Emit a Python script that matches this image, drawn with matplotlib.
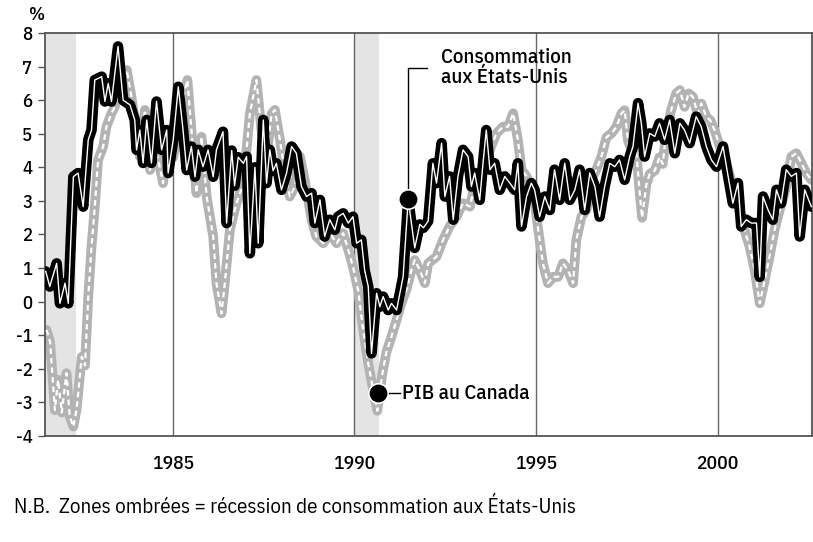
import matplotlib.pyplot as plt

# US consumption (y/y %)
cons_dates = [1981.50, 1981.61, 1981.80, 1981.89, 1982.03, 1982.12, 1982.26, 1982.39, 1982.53,
              1982.67, 1982.76, 1982.85, 1983.04, 1983.13, 1983.22, 1983.31, 1983.49, 1983.63,
              1983.82, 1983.95, 1984.00, 1984.09, 1984.18, 1984.28, 1984.41, 1984.55, 1984.69,
              1984.83, 1984.87, 1985.01, 1985.15, 1985.28, 1985.38, 1985.51, 1985.61, 1985.70,
              1985.83, 1985.97, 1986.11, 1986.20, 1986.38, 1986.48, 1986.62, 1986.70, 1986.80,
              1986.94, 1987.03, 1987.12, 1987.26, 1987.35, 1987.49, 1987.58, 1987.67, 1987.76,
              1987.85, 1987.99, 1988.13, 1988.27, 1988.40, 1988.54, 1988.68, 1988.82, 1988.91,
              1989.05, 1989.18, 1989.32, 1989.46, 1989.55, 1989.69, 1989.83, 1989.96, 1990.06,
              1990.19, 1990.28, 1990.38, 1990.47, 1990.61, 1990.70, 1990.79, 1990.93, 1991.02,
              1991.16, 1991.25, 1991.34, 1991.48, 1991.66, 1991.80, 1991.90, 1992.03, 1992.16,
              1992.26, 1992.40, 1992.49, 1992.62, 1992.72, 1992.85, 1992.99, 1993.13, 1993.22,
              1993.31, 1993.45, 1993.54, 1993.63, 1993.73, 1993.86, 1994.00, 1994.14, 1994.28,
              1994.41, 1994.50, 1994.60, 1994.74, 1994.87, 1994.96, 1995.10, 1995.24, 1995.38,
              1995.51, 1995.65, 1995.79, 1995.93, 1996.07, 1996.20, 1996.34, 1996.48, 1996.62,
              1996.75, 1996.89, 1997.03, 1997.17, 1997.30, 1997.44, 1997.58, 1997.67, 1997.81,
              1997.90, 1997.99, 1998.13, 1998.27, 1998.40, 1998.54, 1998.68, 1998.82, 1998.96,
              1999.09, 1999.23, 1999.41, 1999.55, 1999.69, 1999.83, 1999.97, 2000.15, 2000.29,
              2000.42, 2000.56, 2000.65, 2000.79, 2000.93, 2001.07, 2001.16, 2001.25, 2001.39,
              2001.52, 2001.62, 2001.75, 2001.89, 2002.03, 2002.17, 2002.26, 2002.40, 2002.58]
cons_values = [0.90, 0.45, 1.14, -0.05, 0.55, -0.05, 3.72, 3.83, 2.83,
               4.82, 5.11, 6.60, 6.70, 5.96, 6.50, 5.96, 7.60, 6.00,
               5.86, 5.41, 4.52, 5.11, 4.13, 5.41, 4.13, 5.96, 4.52,
               5.11, 3.83, 4.82, 6.40, 5.11, 3.92, 4.62, 3.72, 4.52,
               4.02, 4.52, 3.72, 4.52, 5.06, 2.34, 4.50, 3.45, 4.30,
               4.12, 4.32, 1.44, 4.00, 1.74, 5.41, 3.53, 4.52, 3.90,
               4.12, 3.33, 3.83, 4.62, 4.42, 3.43, 3.13, 3.23, 2.34,
               3.03, 1.94, 2.44, 2.14, 2.53, 2.63, 2.34, 2.53, 1.74,
               1.84, 0.94, 0.45, -1.54, 0.25, -0.15, 0.15, -0.25, -0.05,
               -0.25, 0.25, 0.74, 3.05, 1.60, 2.30, 2.20, 2.40, 4.12,
               3.53, 4.72, 3.13, 3.73, 2.44, 3.73, 4.52, 4.32, 3.43,
               3.83, 3.03, 4.12, 5.11, 3.93, 4.12, 3.33, 3.73, 3.53,
               3.33, 4.12, 2.24, 3.13, 3.53, 3.33, 2.53, 3.13, 2.73,
               3.93, 3.03, 4.12, 3.03, 3.33, 3.93, 2.73, 3.83, 3.43,
               2.53, 3.43, 4.12, 4.02, 4.22, 3.63, 4.32, 4.62, 5.91,
               5.31, 4.32, 5.01, 4.92, 5.31, 4.82, 5.41, 4.42, 5.31,
               5.11, 4.72, 5.51, 5.21, 4.62, 4.22, 4.02, 4.62, 3.73,
               2.93, 3.53, 2.24, 2.44, 2.34, 2.34, 0.74, 3.13, 2.73,
               2.44, 3.33, 2.93, 3.93, 3.73, 3.83, 1.94, 3.33, 2.83]

# Canadian GDP (y/y %)
gdp_dates = [1981.52, 1981.62, 1981.75, 1981.84, 1981.94, 1982.07, 1982.16, 1982.26, 1982.35,
             1982.49, 1982.58, 1982.67, 1982.76, 1982.85, 1982.94, 1983.08, 1983.17, 1983.31,
             1983.40, 1983.54, 1983.73, 1983.86, 1983.95, 1984.09, 1984.23, 1984.37, 1984.50,
             1984.73, 1984.83, 1985.01, 1985.19, 1985.40, 1985.51, 1985.65, 1985.79, 1985.93,
             1986.11, 1986.20, 1986.34, 1986.43, 1986.57, 1986.75, 1986.94, 1987.12, 1987.30,
             1987.44, 1987.58, 1987.72, 1987.81, 1987.95, 1988.08, 1988.22, 1988.36, 1988.50,
             1988.63, 1988.82, 1988.95, 1989.14, 1989.32, 1989.51, 1989.69, 1989.83, 1989.96,
             1990.10, 1990.24, 1990.38, 1990.51, 1990.63, 1990.76, 1990.88, 1991.02, 1991.16,
             1991.29, 1991.43, 1991.57, 1991.66, 1991.80, 1991.94, 1992.03, 1992.26, 1992.44,
             1992.62, 1992.81, 1992.99, 1993.18, 1993.36, 1993.54, 1993.73, 1993.91, 1994.09,
             1994.23, 1994.37, 1994.50, 1994.60, 1994.74, 1994.92, 1995.06, 1995.19, 1995.33,
             1995.47, 1995.61, 1995.74, 1995.88, 1996.02, 1996.11, 1996.25, 1996.39, 1996.52,
             1996.66, 1996.80, 1996.94, 1997.07, 1997.21, 1997.35, 1997.44, 1997.53, 1997.67,
             1997.76, 1997.85, 1997.92, 1998.04, 1998.13, 1998.27, 1998.40, 1998.49, 1998.58,
             1998.72, 1998.86, 1998.96, 1999.09, 1999.20, 1999.32, 1999.45, 1999.55, 1999.69,
             1999.80, 1999.92, 2000.03, 2000.15, 2000.24, 2000.42, 2000.61, 2000.74, 2000.88,
             2001.02, 2001.16, 2001.30, 2001.43, 2001.57, 2001.71, 2001.89, 2002.03, 2002.17,
             2002.31, 2002.44, 2002.58]
gdp_values = [-0.84, -1.20, -3.23, -2.33, -3.30, -2.13, -3.42, -3.72, -3.20,
              -1.64, -1.90, 0.15, 1.64, 2.83, 4.22, 4.62, 5.21, 5.61,
              5.80, 6.40, 6.90, 6.10, 5.40, 4.32, 5.71, 3.92, 4.72,
              3.53, 5.10, 4.30, 5.60, 6.60, 5.11, 3.23, 4.91, 3.13,
              1.94, 0.55, -0.35, 0.55, 2.14, 2.93, 3.50, 5.60, 6.60,
              5.10, 4.30, 5.60, 5.71, 4.80, 3.90, 3.13, 3.43, 4.32,
              3.63, 2.44, 1.94, 1.74, 2.04, 1.74, 2.04, 1.54, 1.04,
              0.35, -0.84, -1.84, -2.60, -3.25, -2.20, -1.50, -1.04, -0.54,
              -0.05, 0.35, 0.94, 1.24, 0.94, 0.55, 1.14, 1.34, 1.84,
              2.24, 2.53, 2.93, 2.83, 3.73, 3.93, 4.52, 5.01, 5.21,
              5.21, 5.61, 4.82, 3.93, 3.73, 3.33, 2.14, 1.14, 0.55,
              0.74, 0.74, 1.14, 0.94, 0.55, 1.84, 2.53, 2.73, 3.63,
              3.93, 4.32, 4.90, 5.00, 5.20, 5.60, 5.70, 4.80, 4.40,
              4.50, 3.30, 2.50, 3.50, 3.80, 3.90, 4.30, 4.10, 5.00,
              5.70, 6.20, 6.30, 5.80, 6.20, 6.10, 5.60, 5.90, 5.50,
              5.40, 5.10, 4.72, 4.30, 4.12, 3.43, 2.63, 2.14, 1.64,
              0.94, -0.05, 0.65, 1.34, 2.14, 2.73, 3.43, 4.32, 4.42,
              4.12, 3.83, 3.63]

# US consumption recessions (shaded)
rec_start = [1981.4, 1990.0]
rec_end = [1982.33, 1990.67]

year_ticks = [1985, 1990, 1995, 2000]
y_ticks = list(range(-4, 9))

plt.rcParams['font.family'] = ['IBM Plex Sans Condensed', 'DejaVu Sans']
plt.rcParams['axes.unicode_minus'] = False

fig = plt.figure(figsize=(8.13, 5.42), dpi=100)
ax = fig.add_axes([0.0554, 0.1956, 0.9434, 0.7435])

for s, e in zip(rec_start, rec_end):
    ax.axvspan(s, e, color='#e4e4e4', lw=0, zorder=0)
for yr in year_ticks:
    ax.axvline(yr, color='#666666', lw=1.0, zorder=1)

# Canada GDP: grey with white dashes
ax.plot(gdp_dates, gdp_values, color='#b3b3b3', lw=7.0, solid_joinstyle='round',
        solid_capstyle='round', zorder=2)
ax.plot(gdp_dates, gdp_values, color='white', lw=1.6, dashes=(2.5, 1.8), zorder=3)

# US consumption: black with white core
ax.plot(cons_dates, cons_values, color='black', lw=7.6, solid_joinstyle='round',
        solid_capstyle='round', zorder=4)
ax.plot(cons_dates, cons_values, color='white', lw=1.0, zorder=5)

# callouts
ax.plot([1991.48, 1991.48, 1992.0], [3.05, 6.97, 6.97], color='black', lw=1.0, zorder=6)
ax.plot([1991.48], [3.05], 'o', color='black', ms=14, mec='white', mew=1.2, zorder=7)
ax.text(1992.38, 6.97, 'Consommation\naux États-Unis', fontsize=15, fontweight='medium',
        va='center', ha='left', linespacing=1.05)
ax.plot([1990.65, 1991.25], [-2.73, -2.73], color='black', lw=1.0, zorder=6)
ax.plot([1990.65], [-2.73], 'o', color='black', ms=14, mec='white', mew=1.2, zorder=7)
ax.text(1991.30, -2.73, 'PIB au Canada', fontsize=15, fontweight='medium',
        va='center', ha='left')

ax.set_xlim(1981.48, 2002.6)
ax.set_ylim(-4, 8)
ax.set_xticks(year_ticks)
ax.set_xticklabels([str(y) for y in year_ticks])
ax.set_yticks(y_ticks)
ax.tick_params(axis='x', length=0, pad=14, labelsize=14)
ax.tick_params(axis='y', length=5, width=1, color='#555555', pad=4, labelsize=13.5)
for lbl in ax.get_xticklabels() + ax.get_yticklabels():
    lbl.set_fontweight('medium')
for sp in ax.spines.values():
    sp.set_color('#555555')
    sp.set_linewidth(1.3)

fig.text(37 / 813, 1 - 15 / 542, '%', fontsize=13.5, fontweight='medium', ha='center', va='center')
fig.text(14 / 813, 1 - 507 / 542, 'N.B.  Zones ombrées = récession de consommation aux États-Unis',
         fontsize=15, ha='left', va='center')

plt.savefig('out.png', dpi=100)
